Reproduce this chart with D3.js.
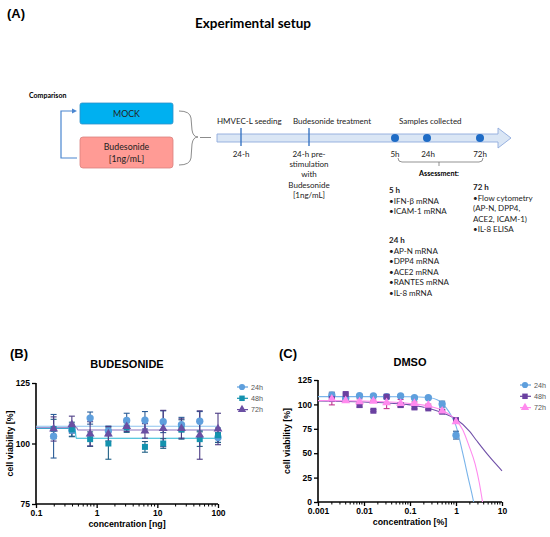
<!DOCTYPE html>
<html><head><meta charset="utf-8">
<script src="https://cdn.jsdelivr.net/npm/d3@7"></script>
<style>body{margin:0;background:#fff}svg{display:block}</style>
</head><body><svg id="c" width="550" height="537"></svg>
<script>
// ---------- Panel A text ----------
const compareGroups = ["MOCK", "Budesonide", "[1ng/mL]"];
const timelineLabels = ["HMVEC-L seeding", "Budesonide treatment", "Samples collected"];
const preStimLines = ["24-h pre-", "stimulation", "with", "Budesonide", "[1ng/mL]"];
const sampleTimes = ["5h", "24h", "72h"];
const assess5h = ["5 h", "•IFN-β mRNA", "•ICAM-1 mRNA"];
const assess24h = ["24 h", "•AP-N mRNA", "•DPP4 mRNA", "•ACE2 mRNA", "•RANTES mRNA", "•IL-8 mRNA"];
const assess72h = ["72 h", "•Flow cytometry", "(AP-N, DPP4,", "ACE2, ICAM-1)", "•IL-8 ELISA"];

// ---------- Panel B data (budesonide, ng) ----------
const budConc = [0.195, 0.39, 0.78, 1.56, 3.125, 6.25, 12.5, 25, 50, 100];
const bud24 = [103.0, 105.5, 110.5, 105.2, 109.5, 109.6, 109.0, 107.8, 109.2, 102.5];
const bud24err = [9.0, 2.5, 2.5, 2.0, 3.0, 3.6, 4.5, 3.0, 4.0, 2.0];
const bud48 = [106.0, 105.8, 101.8, 100.0, 106.6, 98.6, 100.0, 105.8, 101.8, 103.4];
const bud48err = [4.0, 3.0, 3.0, 6.5, 2.0, 2.2, 2.0, 4.0, 3.0, 3.0];
const bud72 = [106.0, 107.8, 104.0, 104.0, 107.0, 105.2, 106.2, 106.2, 103.5, 106.0];
const bud72err = [5.0, 3.5, 5.0, 3.0, 2.0, 3.0, 7.5, 4.0, 10.0, 6.5];
const budFit24 = [[0.1, 107.1], [100, 107.1]];
const budFit48 = [[0.1, 106.2], [0.44, 106.2], [0.46, 102.2], [100, 102.2]];
const budFit72 = [[0.1, 106.5], [0.47, 106.5], [0.49, 105.6], [100, 105.6]];
const budTicksX = [0.1, 1, 10, 100];
const budTicksY = [75, 100, 125];

// ---------- Panel C data (DMSO, %) ----------
const dmsoConc = [0.002, 0.004, 0.008, 0.016, 0.031, 0.0625, 0.125, 0.25, 0.5, 1];
const dmso24 = [109.5, 106.2, 108.9, 108.6, 107.9, 108.6, 106.8, 106.8, 100.3, 68.5];
const dmso24err = [3.0, 1.0, 1.0, 1.0, 1.0, 1.0, 1.0, 1.0, 3.0, 4.0];
const dmso48 = [105.5, 110.6, 99.3, 93.5, 107.9, 99.3, 96.9, 95.9, 92.5, 83.9];
const dmso48err = [1.5, 1.0, 2.0, 1.0, 1.5, 1.5, 1.5, 1.0, 1.5, 1.5];
const dmso72 = [105.5, 103.8, 102.7, 103.4, 101.7, 101.0, 101.0, 99.3, 93.2, 82.2];
const dmso72err = [6.0, 1.0, 3.0, 1.0, 6.0, 4.0, 1.5, 1.0, 1.5, 1.5];
const dmsoFit24 = [[0.001, 108], [0.1, 107.9], [0.25, 107], [0.4, 104.5], [0.6, 97], [0.8, 88], [1, 78], [1.4, 50], [1.9, 22], [2.2, 9], [2.42, 0]];
const dmsoFit48 = [[0.001, 103.5], [0.01, 102.5], [0.1, 99.5], [0.3, 95], [0.6, 90], [1, 85], [2, 72], [2.8, 63], [5, 48], [7, 40], [10, 32]];
const dmsoFit72 = [[0.001, 104], [0.01, 103.5], [0.1, 101], [0.3, 97.5], [0.5, 94], [0.8, 88], [1, 84], [1.4, 74], [1.9, 58], [2.6, 39], [3.2, 20], [3.78, 0]];
const dmsoTicksX = [0.001, 0.01, 0.1, 1, 10];
const dmsoTicksY = [0, 25, 50, 75, 100, 125];
const seriesNames = ["24h", "48h", "72h"];

const svg = d3.select("#c");
const FA = "Lato, 'Open Sans', sans-serif";
const FB = "'Liberation Sans', Arial, sans-serif";

// ================= PANEL A =================
const A = svg.append("g");
A.append("text").attr("x", 7).attr("y", 18).attr("font-family", FB).attr("font-weight", "bold").attr("font-size", 13).text("(A)");
A.append("text").attr("x", 253).attr("y", 28).attr("text-anchor", "middle").attr("font-family", FA).attr("font-weight", "bold").attr("font-size", 13.5).text("Experimental setup");
A.append("text").attr("x", 29).attr("y", 98).attr("font-family", FA).attr("font-weight", "bold").attr("font-size", 7).text("Comparison");

// boxes
A.append("rect").attr("x", 80).attr("y", 103).attr("width", 93).attr("height", 21).attr("rx", 2)
  .attr("fill", "#00B0F0").attr("stroke", "#2E8FC8").attr("stroke-width", 0.8);
A.append("rect").attr("x", 80).attr("y", 137).attr("width", 93).attr("height", 31).attr("rx", 3)
  .attr("fill", "#FF9B95").attr("stroke", "#D9827D").attr("stroke-width", 0.8);
A.append("text").attr("x", 126.5).attr("y", 117).attr("text-anchor", "middle").attr("font-family", FA).attr("font-size", 8.8).attr("fill", "#222").text(compareGroups[0]);
A.append("text").attr("x", 126.5).attr("y", 150).attr("text-anchor", "middle").attr("font-family", FA).attr("font-size", 8.8).attr("fill", "#222").text(compareGroups[1]);
A.append("text").attr("x", 126.5).attr("y", 162).attr("text-anchor", "middle").attr("font-family", FA).attr("font-size", 8.8).attr("fill", "#222").text(compareGroups[2]);

// left blue bracket with arrow
A.append("path").attr("d", "M77,158 L61,158 L61,111 L73,111").attr("fill", "none").attr("stroke", "#4A86D0").attr("stroke-width", 1.2);
A.append("path").attr("d", "M72,108.5 L77,111 L72,113.5 Z").attr("fill", "#4A86D0");

// curly brace
A.append("path").attr("d", "M179,111 Q190,111 191,118 L192,130 Q193,137 198,137 Q193,137 192,144 L191,158 Q190,165 179,165")
  .attr("fill", "none").attr("stroke", "#7F7F7F").attr("stroke-width", 0.9);
A.append("line").attr("x1", 200).attr("x2", 211).attr("y1", 137.5).attr("y2", 137.5).attr("stroke", "#7F7F7F").attr("stroke-width", 0.9);

// timeline arrow
A.append("path").attr("d", "M217,134 L498,134 L498,128 L511,138 L498,148 L498,142 L217,142 Z")
  .attr("fill", "#DAE6F5").attr("stroke", "#8FAADC").attr("stroke-width", 0.9);
[241, 309].forEach(x => A.append("line").attr("x1", x).attr("x2", x).attr("y1", 128).attr("y2", 146).attr("stroke", "#2E6DBF").attr("stroke-width", 1.3));
[395, 427, 480].forEach(x => A.append("circle").attr("cx", x).attr("cy", 138).attr("r", 4).attr("fill", "#1F6CC6"));

const sm = 8;
const tcol = "#222";
A.append("text").attr("x", 217).attr("y", 123.5).attr("font-family", FA).attr("font-size", sm).attr("fill", tcol).text(timelineLabels[0]);
A.append("text").attr("x", 293).attr("y", 123.5).attr("font-family", FA).attr("font-size", sm).attr("fill", tcol).text(timelineLabels[1]);
A.append("text").attr("x", 399).attr("y", 123.5).attr("font-family", FA).attr("font-size", sm).attr("fill", tcol).text(timelineLabels[2]);
A.append("text").attr("x", 241).attr("y", 157).attr("text-anchor", "middle").attr("font-family", FA).attr("font-size", sm).attr("fill", tcol).text("24-h");
preStimLines.forEach((t, i) => A.append("text").attr("x", 309).attr("y", 157 + i * 10.2).attr("text-anchor", "middle").attr("font-family", FA).attr("font-size", sm).attr("fill", tcol).text(t));
[395, 428, 480].forEach((x, i) => A.append("text").attr("x", x).attr("y", 157).attr("text-anchor", "middle").attr("font-family", FA).attr("font-size", sm).attr("fill", tcol).text(sampleTimes[i]));

// assessment bracket
A.append("path").attr("d", "M398,158 Q398,162 402,162 L479,162 Q483,162 483,158").attr("fill", "none").attr("stroke", "#666").attr("stroke-width", 0.7);
A.append("line").attr("x1", 439).attr("x2", 439).attr("y1", 162).attr("y2", 166).attr("stroke", "#666").attr("stroke-width", 0.7);
A.append("text").attr("x", 439).attr("y", 176).attr("text-anchor", "middle").attr("font-family", FA).attr("font-weight", "bold").attr("font-size", 7.2).text("Assessment:");

function block(lines, x, y0) {
  lines.forEach((t, i) => A.append("text").attr("x", x).attr("y", y0 + i * 10.6)
    .attr("font-family", FA).attr("font-size", sm).attr("fill", tcol).attr("font-weight", i === 0 ? "bold" : "normal").text(t));
}
block(assess5h, 389, 193);
block(assess24h, 389, 243);
block(assess72h, 473, 190);

// ================= Plot helper =================
function plot(cfg) {
  const g = svg.append("g");
  const x = d3.scaleLog().domain(cfg.xd).range([cfg.x0, cfg.x1]);
  const y = d3.scaleLinear().domain(cfg.yd).range([cfg.y1, cfg.y0]);
  g.append("text").attr("x", cfg.lx).attr("y", cfg.ly).attr("font-family", FB).attr("font-weight", "bold").attr("font-size", 13).text(cfg.letter);
  g.append("text").attr("x", cfg.tx).attr("y", cfg.ty).attr("text-anchor", "middle").attr("font-family", FB).attr("font-weight", "bold").attr("font-size", 11).text(cfg.title);

  // axes
  const xa = g.append("g").attr("transform", `translate(0,${cfg.y1})`)
    .call(d3.axisBottom(x).tickValues(cfg.xticks).tickFormat(d => String(d)).tickSize(4).tickPadding(2));
  // minor ticks
  const minor = [];
  for (let e = Math.log10(cfg.xd[0]); e < Math.log10(cfg.xd[1]) - 0.01; e++) {
    for (let k = 2; k <= 9; k++) minor.push(k * Math.pow(10, e));
  }
  g.append("g").selectAll("line").data(minor).join("line")
    .attr("x1", d => x(d)).attr("x2", d => x(d)).attr("y1", cfg.y1).attr("y2", cfg.y1 + 2.5)
    .attr("stroke", "#000").attr("stroke-width", 1);
  const ya = g.append("g").attr("transform", `translate(${cfg.x0},0)`)
    .call(d3.axisLeft(y).tickValues(cfg.yticks).tickSize(4).tickPadding(2));
  [xa, ya].forEach(a => {
    a.select(".domain").attr("stroke-width", 1.6).attr("d", null);
    a.selectAll(".tick line").attr("stroke-width", 1.3);
    a.selectAll("text").attr("font-family", FB).attr("font-weight", "bold").attr("font-size", 8.5).attr("fill", "#000");
  });
  xa.select(".domain").attr("d", `M${cfg.x0},0H${cfg.x1}`);
  ya.select(".domain").attr("d", `M0,${cfg.y0}V${cfg.y1}`);

  g.append("text").attr("x", (cfg.x0 + cfg.x1) / 2).attr("y", cfg.y1 + 23).attr("text-anchor", "middle")
    .attr("font-family", FB).attr("font-weight", "bold").attr("font-size", 8.8).text(cfg.xlabel);
  g.append("text").attr("transform", `translate(${cfg.ylx},${(cfg.y0 + cfg.y1) / 2}) rotate(-90)`).attr("text-anchor", "middle")
    .attr("font-family", FB).attr("font-weight", "bold").attr("font-size", 8.8).text("cell viability [%]");

  const clipId = "clip" + cfg.letter.replace(/\W/g, "");
  svg.append("clipPath").attr("id", clipId).append("rect").attr("x", cfg.x0).attr("y", cfg.y0 - 5).attr("width", cfg.x1 - cfg.x0 + 2).attr("height", cfg.y1 - cfg.y0 + 5);

  const line = d3.line().x(d => x(d[0])).y(d => y(d[1])).curve(d3.curveMonotoneX);
  cfg.series.forEach(s => {
    g.append("path").attr("d", line(s.fit)).attr("fill", "none").attr("stroke", s.lineColor).attr("stroke-width", 1.1).attr("clip-path", `url(#${clipId})`);
  });
  cfg.series.forEach(s => {
    const eg = g.append("g");
    cfg.conc.forEach((c, i) => {
      const cx = x(c), v = s.vals[i], e = s.err[i];
      eg.append("line").attr("x1", cx).attr("x2", cx).attr("y1", y(v - e)).attr("y2", y(v + e)).attr("stroke", s.errColor).attr("stroke-width", 1.1);
      [v - e, v + e].forEach(w => eg.append("line").attr("x1", cx - 3).attr("x2", cx + 3).attr("y1", y(w)).attr("y2", y(w)).attr("stroke", s.errColor).attr("stroke-width", 1.1));
    });
  });
  const sym = [d3.symbolCircle, d3.symbolSquare, d3.symbolTriangle];
  cfg.series.forEach((s, k) => {
    g.append("g").selectAll("path").data(cfg.conc).join("path")
      .attr("transform", (c, i) => `translate(${x(c)},${y(s.vals[i])})`)
      .attr("d", d3.symbol().type(sym[k]).size(k === 0 ? 42 : (k === 1 ? 36 : 34)))
      .attr("fill", s.color);
  });
  // legend
  cfg.series.forEach((s, k) => {
    const ly = cfg.legY + k * 11.3;
    g.append("line").attr("x1", cfg.legX - 5).attr("x2", cfg.legX + 6).attr("y1", ly).attr("y2", ly).attr("stroke", s.color).attr("stroke-width", 1.2);
    g.append("path").attr("transform", `translate(${cfg.legX},${ly})`).attr("d", d3.symbol().type(sym[k]).size(30)).attr("fill", s.color);
    g.append("text").attr("x", cfg.legX + 9).attr("y", ly + 2.6).attr("font-family", FB).attr("font-size", 7.2).attr("fill", "#555").text(seriesNames[k]);
  });
}

plot({
  letter: "(B)", lx: 10, ly: 358, title: "BUDESONIDE", tx: 127, ty: 368,
  xd: [0.1, 100], yd: [75, 125], x0: 36, x1: 218, y0: 383, y1: 504,
  xticks: budTicksX, yticks: budTicksY, xlabel: "concentration [ng]", ylx: 13,
  conc: budConc, legX: 242, legY: 387,
  series: [
    { vals: bud24, err: bud24err, fit: budFit24, color: "#5E9FDD", lineColor: "#8CC3EE", errColor: "#2A5C97" },
    { vals: bud48, err: bud48err, fit: budFit48, color: "#1492AE", lineColor: "#27B6D3", errColor: "#1F5F85" },
    { vals: bud72, err: bud72err, fit: budFit72, color: "#6A4FA3", lineColor: "#8A72BE", errColor: "#4B3B84" }
  ]
});

plot({
  letter: "(C)", lx: 279, ly: 358, title: "DMSO", tx: 410, ty: 366,
  xd: [0.001, 10], yd: [0, 125], x0: 318, x1: 502, y0: 380, y1: 502,
  xticks: dmsoTicksX, yticks: dmsoTicksY, xlabel: "concentration [%]", ylx: 290,
  conc: dmsoConc, legX: 525, legY: 385,
  series: [
    { vals: dmso24, err: dmso24err, fit: dmsoFit24, color: "#5E9FDD", lineColor: "#79B4EA", errColor: "#2A5C97" },
    { vals: dmso48, err: dmso48err, fit: dmsoFit48, color: "#6A40A0", lineColor: "#7050A8", errColor: "#5A2E8E" },
    { vals: dmso72, err: dmso72err, fit: dmsoFit72, color: "#FF8AEE", lineColor: "#FF8AEE", errColor: "#C2338F" }
  ]
});
</script></body></html>
